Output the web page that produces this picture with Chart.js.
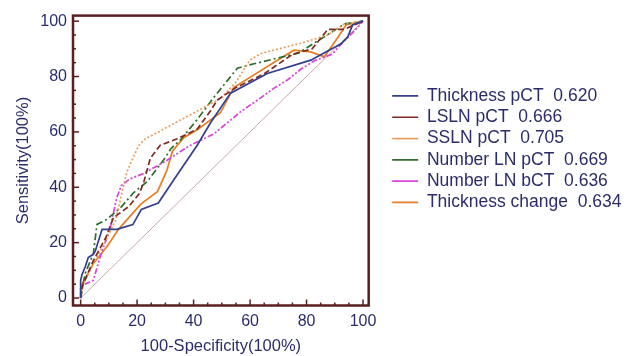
<!DOCTYPE html>
<html>
<head>
<meta charset="utf-8">
<script src="https://cdn.jsdelivr.net/npm/chart.js@4.4.1/dist/chart.umd.min.js"></script>
<style>
  html, body { margin: 0; padding: 0; background: #fff; }
</style>
</head>
<body>
<canvas id="roc" width="634" height="356"></canvas>
<script>
// tick labels on both axes
const tickValues = [0, 20, 40, 60, 80, 100];

// 100-Specificity (x) / Sensitivity (y) per curve
const thickPctX = [0, 0, 0.5, 1.6, 2.7, 4.5, 5.2, 7.6, 12.8, 18.5, 21.5, 27.5, 34.2, 41.3, 46, 53.1, 66.1, 81.5, 92.2, 94.6, 96.3, 100];
const thickPctY = [0, 6.4, 8.5, 11.2, 14.6, 15.8, 17, 24.8, 24.8, 26.5, 32, 34.3, 44.5, 55.2, 63.3, 74, 81.1, 85.9, 91.8, 94.3, 98.6, 100];

const lslnX = [0, 0.5, 4.5, 9, 11.6, 17, 20.8, 22.4, 24.7, 28.2, 34.2, 41.3, 46, 48.4, 55, 65, 75, 82, 87.5, 93.3, 100];
const lslnY = [0, 4, 13.5, 22, 29, 33, 37.7, 42, 50.5, 55.2, 57.5, 61, 67.6, 71.5, 76, 81, 88, 90, 97, 97, 100];

const sslnX = [0, 1, 4.5, 8, 12.3, 16.4, 20.5, 22.8, 49.5, 55, 60, 64, 78, 87.5, 93.4, 100];
const sslnY = [0, 5, 12.4, 19, 27.8, 45.6, 55, 57.4, 72, 78, 86, 88.4, 92, 95, 99, 100];

const numPctX = [0, 1.6, 4.5, 5.8, 9.3, 14.5, 18.7, 23.5, 29.5, 32, 35.3, 41.3, 47.2, 55.5, 59.8, 72.3, 77, 86, 93.5, 100];
const numPctY = [0, 8.9, 16, 26.6, 28.4, 33, 38, 42, 50, 54, 57, 64.5, 72.5, 83, 84.2, 87.3, 88.4, 94.2, 99, 100];

const numBctX = [0, 0, 1.5, 4.5, 6.9, 10.5, 12.7, 14.4, 17.4, 22.3, 29.4, 38.9, 47.2, 56.7, 61.4, 68.5, 73.3, 77.9, 82.6, 89, 93, 96.5, 100];
const numBctY = [0, 4, 5, 6.4, 14.8, 25.3, 35.9, 40.6, 43, 45, 49, 55.2, 59.3, 67.3, 70.6, 75.8, 78.8, 82.6, 85.6, 88, 92.5, 96, 100];

const thickChgX = [0, 0.5, 4.5, 9.3, 13.4, 21.3, 27.2, 30.5, 32.5, 36.5, 41.3, 49.5, 54.2, 69.7, 75.5, 81.5, 86.3, 91, 94, 100];
const thickChgY = [0, 5, 12.5, 18.5, 24.8, 33.9, 38.4, 46, 53, 57.9, 60.8, 66.9, 76, 85.9, 89.5, 88.9, 87.1, 94, 98.6, 100];

const refX = [0, 100];
const refY = [0, 100];

const labels = [
    'Thickness pCT  0.620',
    'LSLN pCT  0.666',
    'SSLN pCT  0.705',
    'Number LN pCT  0.669',
    'Number LN bCT  0.636',
    'Thickness change  0.634'
];

const navy = '#2b2d6b';
const frameColor = '#5b1f1f';
const font = "'Liberation Sans', Arial, sans-serif";

function pts(xs, ys) {
    return xs.map((x, i) => ({ x: x, y: ys[i] }));
}

function curve(label, xs, ys, color, dash, width) {
    return {
        label: label,
        data: pts(xs, ys),
        borderColor: color,
        backgroundColor: color,
        borderWidth: width || 1.7,
        borderDash: dash,
        pointRadius: 0,
        tension: 0,
        fill: false
    };
}

// frame round the plot with inward tick marks
const framePlugin = {
    id: 'frame',
    afterDatasetsDraw(chart) {
        const { ctx, chartArea: a, scales } = chart;
        ctx.save();
        ctx.strokeStyle = frameColor;
        ctx.lineWidth = 1.5;
        for (let v = 0; v <= 100; v += 5) {
            const len = v % 20 === 0 ? 6 : 3;
            const px = scales.x.getPixelForValue(v);
            ctx.beginPath();
            ctx.moveTo(px, a.bottom);
            ctx.lineTo(px, a.bottom - len);
            ctx.stroke();
            const py = scales.y.getPixelForValue(v);
            ctx.beginPath();
            ctx.moveTo(a.left, py);
            ctx.lineTo(a.left + len, py);
            ctx.stroke();
        }
        ctx.lineWidth = 2.5;
        ctx.strokeRect(a.left, a.top, a.right - a.left, a.bottom - a.top);
        ctx.restore();
    }
};

new Chart(document.getElementById('roc'), {
    type: 'line',
    data: {
        datasets: [
            curve(labels[0], thickPctX, thickPctY, '#333f8c', []),
            curve(labels[1], lslnX, lslnY, '#7e2a22', [6, 3]),
            curve(labels[2], sslnX, sslnY, '#e7a060', [2, 2]),
            curve(labels[3], numPctX, numPctY, '#2f6e2c', [7, 3, 2, 3]),
            curve(labels[4], numBctX, numBctY, '#d845d8', [6, 2, 2, 2, 2, 2]),
            curve(labels[5], thickChgX, thickChgY, '#e57e24', []),
            curve('ref', refX, refY, '#c9aaaa', [], 1)
        ]
    },
    options: {
        responsive: false,
        animation: false,
        devicePixelRatio: 1,
        layout: { padding: { left: 0, top: 12, right: 2.5, bottom: 0 } },
        scales: {
            x: {
                type: 'linear',
                min: -2.7,
                max: 102,
                grid: { display: false, drawTicks: false },
                border: { display: false },
                afterBuildTicks: s => { s.ticks = tickValues.map(v => ({ value: v })); },
                afterFit: s => { s.height = 50.5; },
                ticks: { color: navy, font: { family: font, size: 16 }, padding: 6, maxRotation: 0 },
                title: {
                    display: true,
                    text: '100-Specificity(100%)',
                    color: navy,
                    font: { family: font, size: 16.5 },
                    padding: { top: 4, bottom: 0 }
                }
            },
            y: {
                type: 'linear',
                min: -2.7,
                max: 102,
                grid: { display: false, drawTicks: false },
                border: { display: false },
                afterBuildTicks: s => { s.ticks = tickValues.map(v => ({ value: v })); },
                afterFit: s => { s.width = 73; },
                ticks: { color: navy, font: { family: font, size: 16 }, padding: 6 },
                title: {
                    display: true,
                    text: 'Sensitivity(100%)',
                    color: navy,
                    font: { family: font, size: 16.5 },
                    padding: { top: 14, bottom: 4 }
                }
            },
            gap: {
                type: 'linear',
                position: 'right',
                display: true,
                grid: { display: false, drawTicks: false },
                border: { display: false },
                ticks: { display: false },
                afterFit: s => { s.width = 19.7; }
            }
        },
        plugins: {
            legend: {
                position: 'right',
                align: 'start',
                maxWidth: 300,
                title: { display: true, text: '', font: { size: 12 }, padding: { top: 57, bottom: 0 } },
                labels: {
                    color: navy,
                    font: { family: font, size: 17.5 },
                    usePointStyle: true,
                    pointStyle: 'line',
                    pointStyleWidth: 26,
                    padding: 3.8,
                    filter: item => item.text !== 'ref'
                }
            },
            tooltip: { enabled: false }
        }
    },
    plugins: [framePlugin]
});
</script>
</body>
</html>
